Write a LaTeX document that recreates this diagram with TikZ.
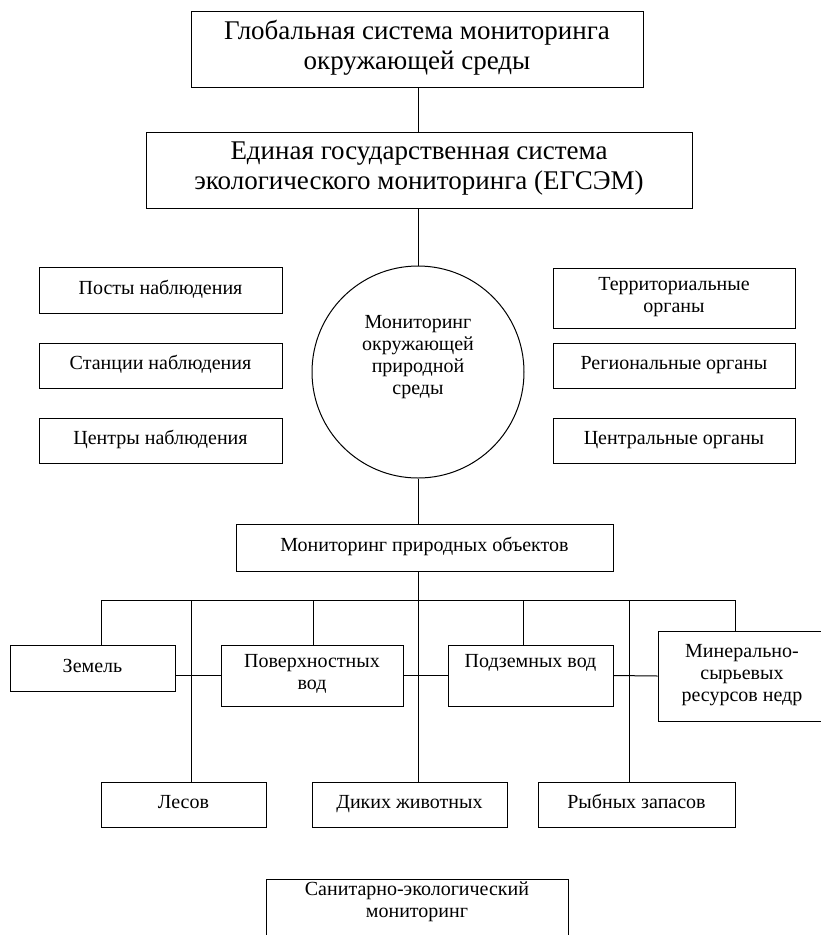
\documentclass[tikz,border=0pt]{standalone}
\usepackage{fontspec}
\setmainfont{Liberation Serif}
\usetikzlibrary{positioning}
\tikzset{
  bigbox/.style={draw, align=center, inner sep=0pt, font=\fontsize{27}{30}\selectfont,
    execute at begin node=\strut, execute at end node=\strut},
  smallbox/.style={draw, align=center, inner sep=0pt, font=\fontsize{20}{22}\selectfont,
    execute at begin node=\strut, execute at end node=\strut},
  every path/.style={line width=1pt}
}
\begin{document}
\begin{tikzpicture}[x=1pt,y=-1pt]
\useasboundingbox (0,0) rectangle (820,935);
% top of the scheme
\node[bigbox, minimum width=452pt, minimum height=76pt] (glob) at (417,49)
  {Глобальная система мониторинга\\окружающей среды};
\node[bigbox, minimum width=546pt, minimum height=76pt] (egsem) at (419,170)
  {Единая государственная система\\экологического мониторинга (ЕГСЭМ)};
\node[smallbox, circle, minimum size=212pt] (env) at (418,372)
  {Мониторинг\\окружающей\\природной\\среды\\[6pt]};
\draw (glob.south -| env.north) -- (egsem.north -| env.north);
\draw (egsem.south -| env.north) -- (env.north);

% left column
\node[smallbox, minimum width=243pt, minimum height=46pt] (posts) at (160.5,290) {Посты наблюдения};
\node[smallbox, minimum width=243pt, minimum height=45pt] (stations) at (160.5,365.5) {Станции наблюдения};
\node[smallbox, minimum width=243pt, minimum height=45pt] (centres) at (160.5,440.5) {Центры наблюдения};

% right column
\node[smallbox, minimum width=242pt, minimum height=60pt] (terr) at (674,298) {Территориальные\\органы};
\node[smallbox, minimum width=242pt, minimum height=45pt] (region) at (674,365.5) {Региональные органы};
\node[smallbox, minimum width=242pt, minimum height=45pt] (central) at (674,440.5) {Центральные органы};

% natural objects
\node[smallbox, minimum width=377pt, minimum height=47pt] (objects) at (424.5,547.5) {Мониторинг природных объектов};
\draw (env.south) -- (env.south |- objects.north);
\coordinate (bus) at (418,600);
\draw (env.south |- objects.south) -- (bus);

\node[smallbox, minimum width=165pt, minimum height=46pt] (zemel) at (92.5,668) {Земель};
\node[smallbox, minimum width=182pt, minimum height=61pt] (poverh) at (312,675.5) {Поверхностных\\вод};
\node[smallbox, minimum width=165pt, minimum height=61pt] (podzem) at (530.5,675.5) {Подземных вод\\\mbox{}};
\node[smallbox, minimum width=168pt, minimum height=90pt] (mineral) at (742,676) {Минерально-\\сырьевых\\ресурсов недр};
\node[smallbox, minimum width=165pt, minimum height=45pt] (lesov) at (183.5,804.5) {Лесов};
\node[smallbox, minimum width=195pt, minimum height=45pt] (dikih) at (409.5,804.5) {Диких животных};
\node[smallbox, minimum width=197pt, minimum height=45pt] (ryba) at (636.5,804.5) {Рыбных запасов};

% bus and drops
\foreach \x/\n in {101/zemel,191/lesov,313/poverh,418/dikih,523/podzem,629/ryba,735/mineral}{
  \coordinate (t\n) at (\x,600);
  \draw (t\n) -- (t\n |- \n.north);
}
\draw (tzemel) -- (tmineral);
\draw (zemel.east |- poverh.west) -- (poverh.west);
\draw (poverh.east) -- (podzem.west);
\draw (podzem.east) -- (mineral.west);

% sanitary
\node[smallbox, minimum width=302pt, minimum height=62pt] (sanit) at (417,910) {Санитарно-экологический\\мониторинг\\[-8pt]\mbox{}};
\end{tikzpicture}
\end{document}
